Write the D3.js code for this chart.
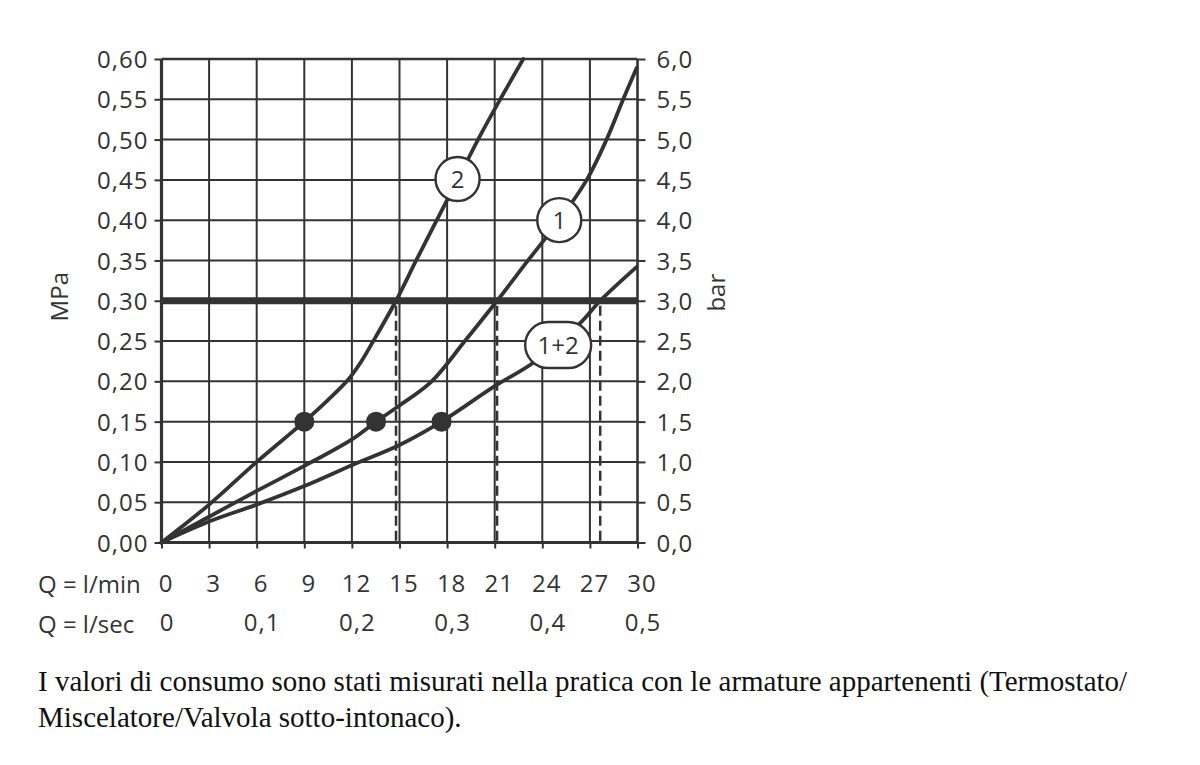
<!DOCTYPE html>
<html>
<head>
<meta charset="utf-8">
<script src="https://cdn.jsdelivr.net/npm/d3@7"></script>
<style>
  body { margin: 0; background: #fff; }
  svg text { fill: #333; }
  .num { font-family: "Open Sans", sans-serif; font-size: 24px; letter-spacing: 1px; }
  .unit { font-family: "Open Sans", sans-serif; font-size: 24px; }
  .caption { font-family: "Liberation Serif", "Times New Roman", serif; font-size: 29px; fill: #111; }
</style>
</head>
<body>
<div id="chart"></div>
<script>
// --------------- Data ---------------
const flowTicks = [0, 3, 6, 9, 12, 15, 18, 21, 24, 27, 30];     // l/min
const secTicks = [0, 0.1, 0.2, 0.3, 0.4, 0.5];                    // l/sec
const mpaTicks = [0, 0.05, 0.1, 0.15, 0.2, 0.25, 0.3, 0.35, 0.4, 0.45, 0.5, 0.55, 0.6];
const barTicks = [0, 0.5, 1, 1.5, 2, 2.5, 3, 3.5, 4, 4.5, 5, 5.5, 6];

// [l/min, MPa]
const curve2 = [[0, 0], [3, 0.047], [6, 0.1], [9, 0.15], [10.5, 0.177], [11.8, 0.203],
  [12.6, 0.225], [13.35, 0.25], [14.78, 0.3], [16.05, 0.35], [17.35, 0.4], [18.66, 0.45],
  [19.95, 0.5], [21.35, 0.55], [22.8, 0.6]];
const curve1 = [[0, 0], [3, 0.032], [6, 0.064], [9, 0.095], [12, 0.128], [13.52, 0.15],
  [15, 0.17], [17.03, 0.2], [19.12, 0.25], [21.15, 0.3], [23.1, 0.35], [25.07, 0.4],
  [26.8, 0.45], [28.05, 0.5], [29.1, 0.55], [29.95, 0.589]];
const curve12 = [[0, 0], [3, 0.026], [6, 0.047], [9, 0.07], [12, 0.096], [15, 0.121],
  [17.65, 0.15], [21, 0.194], [23.43, 0.223], [26.37, 0.272], [27.65, 0.3], [29.95, 0.342]];

const operatingPoints = [[9, 0.15], [13.52, 0.15], [17.65, 0.15]];
const nominalPressure = 0.3;
const crossings = [14.78, 21.15, 27.65];

const curveLabels = [
  { text: "2", x: 18.66, y: 0.451, shape: "circle" },
  { text: "1", x: 25.07, y: 0.4, shape: "circle" },
  { text: "1+2", x: 25.0, y: 0.245, shape: "pill" },
];

const captionLines = [
  "I valori di consumo sono stati misurati nella pratica con le armature appartenenti (Termostato/",
  "Miscelatore/Valvola sotto-intonaco).",
];

// --------------- Setup ---------------
const INK = "#333";
const W = 1200, H = 765;
const locale = d3.formatLocale({ decimal: ",", thousands: ".", grouping: [3], currency: ["", ""] });
const fmt2 = locale.format(".2f");
const fmt1 = locale.format(".1f");

const x = d3.scaleLinear().domain([0, 30]).range([161.5, 637.5]);
const y = d3.scaleLinear().domain([0, 0.6]).range([542.5, 59]);
const yBar = d3.scaleLinear().domain([0, 6]).range(y.range());
const xSec = d3.scaleLinear().domain([0, 0.5]).range(x.range());

const svg = d3.select("#chart").append("svg")
  .attr("width", W).attr("height", H);

// --------------- Grid ---------------
const grid = svg.append("g").attr("stroke", INK).attr("stroke-width", 2);
grid.selectAll("line.v").data(flowTicks).join("line")
  .attr("class", "v")
  .attr("x1", (d) => x(d)).attr("x2", (d) => x(d))
  .attr("y1", y(0)).attr("y2", y(0.6))
  .attr("stroke-width", (d) => (d === 0 ? 3.2 : d === 30 ? 2.6 : 2));
grid.selectAll("line.h").data(mpaTicks).join("line")
  .attr("class", "h")
  .attr("x1", x(0)).attr("x2", x(30))
  .attr("y1", (d) => y(d)).attr("y2", (d) => y(d))
  .attr("stroke-width", (d) => (d === 0 ? 3 : d === 0.6 ? 2.6 : 2));

// --------------- Axes ---------------
const left = svg.append("g")
  .attr("transform", `translate(${x(0)},0)`)
  .call(d3.axisLeft(y).tickValues(mpaTicks).tickSize(7).tickPadding(6).tickFormat(fmt2));
const right = svg.append("g")
  .attr("transform", `translate(${x(30)},0)`)
  .call(d3.axisRight(yBar).tickValues(barTicks).tickSize(8).tickPadding(11).tickFormat(fmt1));
const bottom = svg.append("g")
  .attr("transform", `translate(0,${y(0)})`)
  .call(d3.axisBottom(x).tickValues(flowTicks).tickSize(6).tickPadding(26).tickFormat(d3.format("d")));
const bottomSec = svg.append("g")
  .attr("transform", `translate(0,${y(0) + 71})`)
  .call(d3.axisBottom(xSec).tickValues(secTicks).tickSize(0).tickPadding(0)
    .tickFormat((d) => (d === 0 ? "0" : fmt1(d))));
bottomSec.selectAll(".tick line").remove();

[left, right, bottom, bottomSec].forEach((g) => {
  g.select(".domain").remove();
  g.selectAll(".tick line").attr("stroke", INK).attr("stroke-width", 2);
  g.selectAll(".tick text").attr("class", "num").attr("fill", INK).attr("font-size", null).attr("font-family", null);
});
bottom.selectAll(".tick text").attr("dx", 4);
bottomSec.selectAll(".tick text").attr("dx", 5);
left.selectAll(".tick text").attr("dy", "0.36em");
right.selectAll(".tick text").attr("dy", "0.36em");

// unit labels
svg.append("text").attr("class", "unit")
  .attr("transform", `translate(68,${y(0.305)}) rotate(-90)`)
  .attr("text-anchor", "middle").text("MPa");
svg.append("text").attr("class", "unit")
  .attr("transform", `translate(725,${y(0.31)}) rotate(-90)`)
  .attr("text-anchor", "middle").text("bar");
svg.append("text").attr("class", "unit").attr("x", 38).attr("y", 593).text("Q = l/min");
svg.append("text").attr("class", "unit").attr("x", 38).attr("y", 633).text("Q = l/sec");

// --------------- Reference pressure ---------------
svg.append("line")
  .attr("x1", x(0)).attr("x2", x(30))
  .attr("y1", y(nominalPressure)).attr("y2", y(nominalPressure))
  .attr("stroke", INK).attr("stroke-width", 7);

svg.append("g").selectAll("line").data(crossings).join("line")
  .attr("x1", (d) => x(d)).attr("x2", (d) => x(d))
  .attr("y1", y(nominalPressure) + 5).attr("y2", y(0))
  .attr("stroke", INK).attr("stroke-width", 2.5)
  .attr("stroke-dasharray", "10,5");

// --------------- Curves ---------------
const line = d3.line()
  .x((d) => x(d[0]))
  .y((d) => y(d[1]))
  .curve(d3.curveCatmullRom.alpha(0.5));

svg.append("g").selectAll("path").data([curve2, curve1, curve12]).join("path")
  .attr("d", line)
  .attr("fill", "none")
  .attr("stroke", INK)
  .attr("stroke-width", 3.8)
  .attr("stroke-linecap", "round");

svg.append("g").selectAll("circle").data(operatingPoints).join("circle")
  .attr("cx", (d) => x(d[0])).attr("cy", (d) => y(d[1]))
  .attr("r", 10).attr("fill", INK);

// --------------- Curve labels ---------------
const lbl = svg.append("g").selectAll("g").data(curveLabels).join("g")
  .attr("transform", (d) => `translate(${x(d.x)},${y(d.y)})`);
lbl.filter((d) => d.shape === "circle").append("circle")
  .attr("r", 22).attr("fill", "#fff").attr("stroke", INK).attr("stroke-width", 2.4);
lbl.filter((d) => d.shape === "pill").append("rect")
  .attr("x", -33).attr("y", -23).attr("width", 66).attr("height", 46).attr("rx", 23)
  .attr("fill", "#fff").attr("stroke", INK).attr("stroke-width", 2.4);
lbl.append("text").attr("class", "unit")
  .attr("text-anchor", "middle").attr("dy", "0.36em")
  .text((d) => d.text);

// --------------- Caption ---------------
svg.append("g").selectAll("text").data(captionLines).join("text")
  .attr("class", "caption")
  .attr("x", 38)
  .attr("y", (d, i) => 691 + i * 36)
  .text((d) => d);
</script>
</body>
</html>
